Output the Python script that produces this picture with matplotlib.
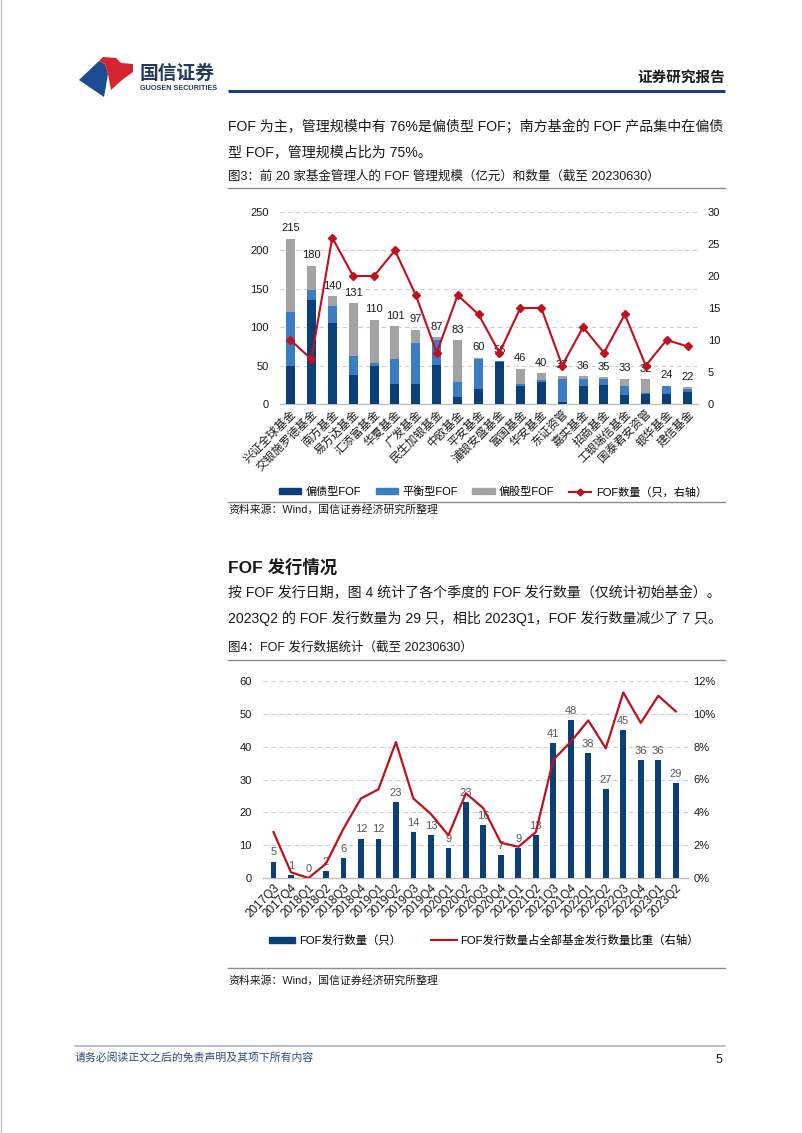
import matplotlib
matplotlib.use("Agg")
import matplotlib.pyplot as plt
from matplotlib.patches import Polygon, Patch
from matplotlib.lines import Line2D
from matplotlib.ticker import MultipleLocator, PercentFormatter

plt.rcParams['font.family'] = ['Liberation Sans', 'Noto Sans CJK SC', 'DejaVu Sans']

# ---------------- data: chart 1 ----------------
managers = ['兴证全球基金', '交银施罗德基金', '南方基金', '易方达基金', '汇添富基金', '华夏基金',
            '广发基金', '民生加银基金', '中欧基金', '平安基金', '浦银安盛基金', '富国基金',
            '华安基金', '东证资管', '嘉实基金', '招商基金', '工银瑞信基金', '国泰君安资管',
            '银华基金', '建信基金']
bond_fof = [50, 136, 105, 38, 49, 26, 26, 51, 9, 19, 55, 23, 28, 3, 23, 25, 12, 13, 13, 16]
balanced_fof = [70, 12, 23, 24, 5, 33, 53, 32, 20, 40, 1, 3, 3, 30, 10, 8, 12, 1, 11, 4]
equity_fof = [95, 32, 12, 69, 56, 42, 18, 4, 54, 1, 0, 20, 9, 4, 3, 2, 9, 18, 0, 2]
total_scale = [215, 180, 140, 131, 110, 101, 97, 87, 83, 60, 56, 46, 40, 37, 36, 35, 33, 32, 24, 22]
fof_count = [10, 7, 26, 20, 20, 24, 17, 8, 17, 14, 8, 15, 15, 6, 12, 8, 14, 6, 10, 9]

# ---------------- data: chart 2 ----------------
quarters = ['2017Q3', '2017Q4', '2018Q1', '2018Q2', '2018Q3', '2018Q4', '2019Q1', '2019Q2',
            '2019Q3', '2019Q4', '2020Q1', '2020Q2', '2020Q3', '2020Q4', '2021Q1', '2021Q2',
            '2021Q3', '2021Q4', '2022Q1', '2022Q2', '2022Q3', '2022Q4', '2023Q1', '2023Q2']
issue_count = [5, 1, 0, 2, 6, 12, 12, 23, 14, 13, 9, 23, 16, 7, 9, 13, 41, 48, 38, 27, 45, 36, 36, 29]
issue_ratio = [2.8, 0.35, 0.0, 0.87, 3.0, 4.84, 5.4, 8.28, 4.84, 3.9, 2.6, 5.16, 4.25, 2.15,
               1.9, 2.8, 7.2, 8.3, 9.6, 7.9, 11.3, 9.45, 11.1, 10.15]

# ---------------- colours ----------------
NAVY = '#0b3f78'
MID = '#3b7dc4'
GREY = '#a3a3a3'
RED = '#c0101e'
GRID = '#cfcfcf'
TXT = '#1a1a1a'

W, H = 802, 1133
fig = plt.figure(figsize=(W / 100, H / 100), dpi=100)
fig.patch.set_facecolor('white')

bg = fig.add_axes([0, 0, 1, 1])
bg.set_xlim(0, W)
bg.set_ylim(H, 0)
bg.axis('off')

# page border
bg.plot([1, 1], [0, H], color='#bdbdbd', lw=1)

# logo
bg.add_patch(Polygon([(79, 80), (99, 61), (105, 64), (108, 74), (106, 86), (104, 97)],
                     closed=True, color='#1d4b8f', lw=0))
bg.add_patch(Polygon([(99, 61), (103, 57), (116, 58), (121, 63), (133, 64), (133, 72),
                      (122, 80), (111, 90), (108, 74), (105, 64)],
                     closed=True, color='#d5232f', lw=0))
bg.text(140, 73, '国信证券', fontsize=13.5, color='#23395d', va='center', ha='left',
        family=['Noto Sans CJK SC'], fontweight='bold')
bg.text(140, 88, 'GUOSEN SECURITIES', fontsize=5.2, color='#23395d', va='center', ha='left',
        fontweight='bold')
bg.text(725, 77, '证券研究报告', fontsize=10.5, color=TXT, va='center', ha='right',
        family=['Noto Sans CJK SC'], fontweight='bold')
bg.plot([228, 725], [91, 91], color='#1f3f7a', lw=2.2, solid_capstyle='butt')

PFS = 10.1
# paragraph 1
bg.text(228, 127, 'FOF 为主，管理规模中有 76%是偏债型 FOF；南方基金的 FOF 产品集中在偏债',
        fontsize=PFS, color=TXT, va='center', ha='left')
bg.text(228, 152, '型 FOF，管理规模占比为 75%。', fontsize=PFS, color=TXT, va='center', ha='left')
bg.text(228, 177, '图3：前 20 家基金管理人的 FOF 管理规模（亿元）和数量（截至 20230630）',
        fontsize=9.0, color=TXT, va='center', ha='left')
bg.plot([228, 725], [188, 188], color='#8c8c8c', lw=1)

# source 1
bg.plot([228, 725], [502, 502], color='#8c8c8c', lw=1)
bg.text(228, 509, '资料来源：Wind，国信证券经济研究所整理', fontsize=7.8, color=TXT,
        va='center', ha='left')

# heading and paragraph 2
bg.text(228, 567, 'FOF 发行情况', fontsize=12.5, color=TXT, va='center', ha='left',
        fontweight='bold')
bg.text(228, 593, '按 FOF 发行日期，图 4 统计了各个季度的 FOF 发行数量（仅统计初始基金）。',
        fontsize=PFS, color=TXT, va='center', ha='left')
bg.text(228, 618, '2023Q2 的 FOF 发行数量为 29 只，相比 2023Q1，FOF 发行数量减少了 7 只。',
        fontsize=PFS, color=TXT, va='center', ha='left')
bg.text(228, 647, '图4：FOF 发行数据统计（截至 20230630）', fontsize=9.0, color=TXT,
        va='center', ha='left')
bg.plot([228, 725], [660, 660], color='#8c8c8c', lw=1)

# source 2
bg.plot([228, 725], [968, 968], color='#8c8c8c', lw=1)
bg.text(228, 980, '资料来源：Wind，国信证券经济研究所整理', fontsize=7.8, color=TXT,
        va='center', ha='left')

# footer
bg.plot([75, 725], [1046, 1046], color='#aab4c0', lw=1.2)
bg.text(75, 1057, '请务必阅读正文之后的免责声明及其项下所有内容', fontsize=7.8,
        color='#2a4a80', va='center', ha='left', style='italic')
bg.text(722, 1060, '5', fontsize=9, color=TXT, va='center', ha='right')


def style_axes(ax):
    for s in ['top', 'right', 'left']:
        ax.spines[s].set_visible(False)
    ax.spines['bottom'].set_color('#bfbfbf')
    ax.spines['bottom'].set_linewidth(1.0)
    ax.tick_params(length=0, labelsize=8, colors=TXT)


# ---------------- chart 1 ----------------
ax1 = fig.add_axes([280 / W, 1 - 404 / H, (698 - 280) / W, (404 - 212) / H])
x1 = list(range(len(managers)))
bw = 0.43
ax1.bar(x1, bond_fof, width=bw, color=NAVY, zorder=3)
ax1.bar(x1, balanced_fof, width=bw, bottom=bond_fof, color=MID, zorder=3)
bottoms = [b + m for b, m in zip(bond_fof, balanced_fof)]
ax1.bar(x1, equity_fof, width=bw, bottom=bottoms, color=GREY, zorder=3)
for xi, t in zip(x1, total_scale):
    ax1.annotate(str(t), (xi, t), xytext=(0, 4), textcoords='offset points',
                 ha='center', va='bottom', fontsize=8, color=TXT, zorder=4)
ax1.set_xlim(-0.5, len(managers) - 0.5)
ax1.set_ylim(0, 250)
ax1.yaxis.set_major_locator(MultipleLocator(50))
ax1.grid(axis='y', ls=(0, (4, 3)), color=GRID, lw=0.8, zorder=0)
ax1.set_axisbelow(True)
style_axes(ax1)
ax1.set_xticks(x1)
ax1.set_xticklabels(managers, rotation=45, ha='right', rotation_mode='anchor', fontsize=8.3)
ax1.tick_params(axis='x', pad=3)
ax1.tick_params(axis='y', pad=8)

ax1r = ax1.twinx()
ax1r.plot(x1, fof_count, color=RED, lw=1.5, marker='D', markersize=4.5, zorder=5)
ax1r.set_ylim(0, 30)
ax1r.yaxis.set_major_locator(MultipleLocator(5))
for s in ['top', 'right', 'left', 'bottom']:
    ax1r.spines[s].set_visible(False)
ax1r.tick_params(length=0, labelsize=8, colors=TXT, pad=7)

h1 = [Patch(color=NAVY), Patch(color=MID), Patch(color=GREY),
      Line2D([0], [0], color=RED, lw=1.5, marker='D', markersize=3.5)]
l1 = ['偏债型FOF', '平衡型FOF', '偏股型FOF', 'FOF数量（只，右轴）']
fig.legend(h1, l1, ncol=4, loc='center', bbox_to_anchor=(493 / W, 1 - 492 / H),
           frameon=False, fontsize=8, handlelength=2.0, handleheight=0.45,
           handletextpad=0.4, columnspacing=1.3)

# ---------------- chart 2 ----------------
ax2 = fig.add_axes([263 / W, 1 - 878 / H, (688 - 263) / W, (878 - 681) / H])
x2 = list(range(len(quarters)))
ax2.bar(x2, issue_count, width=0.33, color=NAVY, zorder=3)
for xi, v in zip(x2, issue_count):
    ax2.annotate(str(v), (xi, v), xytext=(0, 3), textcoords='offset points',
                 ha='center', va='bottom', fontsize=8, color='#595959', zorder=4)
ax2.set_xlim(-0.6, len(quarters) - 0.3)
ax2.set_ylim(0, 60)
ax2.yaxis.set_major_locator(MultipleLocator(10))
ax2.grid(axis='y', ls=(0, (4, 3)), color=GRID, lw=0.8, zorder=0)
ax2.set_axisbelow(True)
style_axes(ax2)
ax2.set_xticks(x2)
ax2.set_xticklabels(quarters, rotation=45, ha='right', rotation_mode='anchor', fontsize=8.5)
ax2.tick_params(axis='x', pad=3)
ax2.tick_params(axis='y', pad=8)

ax2r = ax2.twinx()
ax2r.plot(x2, issue_ratio, color=RED, lw=1.6, zorder=5)
ax2r.set_ylim(0, 12)
ax2r.yaxis.set_major_locator(MultipleLocator(2))
ax2r.yaxis.set_major_formatter(PercentFormatter(decimals=0))
for s in ['top', 'right', 'left', 'bottom']:
    ax2r.spines[s].set_visible(False)
ax2r.tick_params(length=0, labelsize=8, colors=TXT, pad=4)

h2 = [Patch(color=NAVY), Line2D([0], [0], color=RED, lw=1.5)]
l2 = ['FOF发行数量（只）', 'FOF发行数量占全部基金发行数量比重（右轴）']
fig.legend(h2, l2, ncol=2, loc='center', bbox_to_anchor=(484 / W, 1 - 940 / H),
           frameon=False, fontsize=8.2, handlelength=2.3, handleheight=0.45,
           handletextpad=0.3, columnspacing=2.6)

fig.savefig('out.png', dpi=100, facecolor='white')
